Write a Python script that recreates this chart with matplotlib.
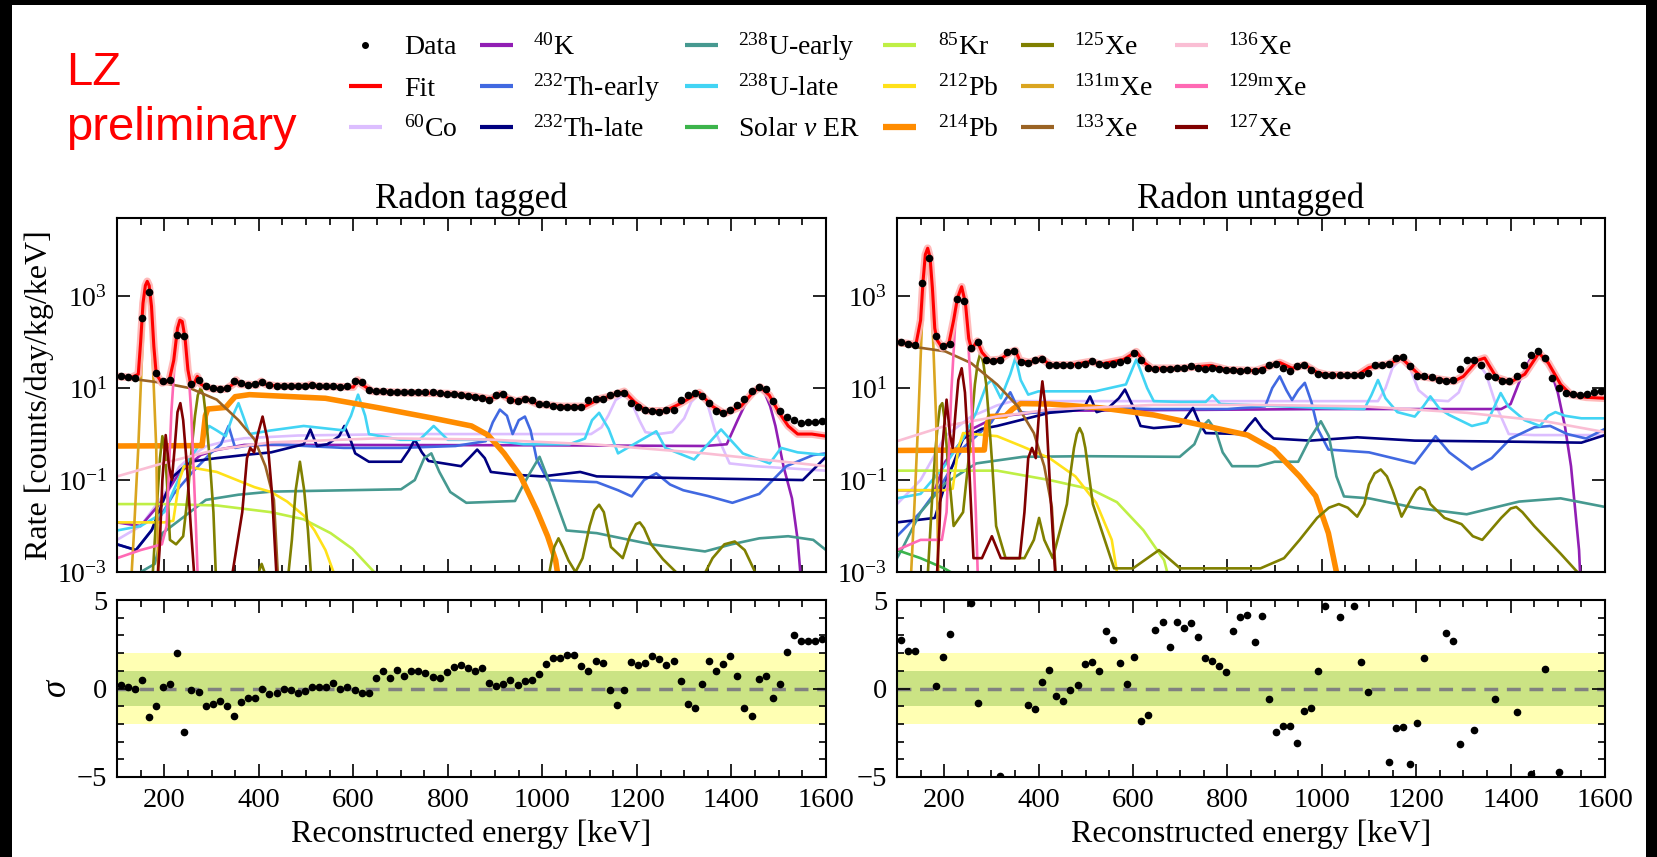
import numpy as np
import matplotlib
matplotlib.use('Agg')
import matplotlib.pyplot as plt
from matplotlib.patches import Rectangle
from matplotlib.lines import Line2D
from matplotlib.ticker import FixedLocator, MultipleLocator, NullLocator, FuncFormatter

plt.rcParams['font.family'] = ['Liberation Serif', 'DejaVu Serif']
plt.rcParams['mathtext.fontset'] = 'custom'
plt.rcParams['mathtext.rm'] = 'Liberation Serif'
plt.rcParams['mathtext.it'] = 'Liberation Serif:italic'
plt.rcParams['mathtext.bf'] = 'Liberation Serif:bold'

# ---------------- data ----------------
bin_edges = np.arange(100, 1601, 15)
bin_centers = 0.5 * (bin_edges[:-1] + bin_edges[1:])

data_tag = [17.9, 17.3, 16.3, 337, 1220, 21, 14.1, 15.3, 146, 134,
            12.2, 15.3, 10.9, 10, 9.5, 10, 14, 13, 11.9, 12.5,
            13.4, 11.9, 11.3, 11.3, 11.3, 11.3, 11.3, 11.9, 10.9, 10.9,
            11.3, 10.5, 10.9, 14, 13.4, 9.3, 8.8, 8.5, 8.3, 8.2,
            8.2, 8.1, 8.2, 8.1, 8.2, 7.8, 7.5, 7.4, 7.2, 6.6,
            6.4, 6.1, 5.6, 7.2, 7.5, 5.6, 5.2, 5.8, 5.4, 4.4,
            4.4, 4.0, 3.9, 3.9, 3.9, 3.9, 5.6, 5.9, 5.8, 7.2,
            7.8, 7.8, 4.7, 3.9, 3.4, 3.1, 3.0, 3.4, 3.4, 5.4,
            7.2, 7.8, 6.6, 4.7, 3.2, 2.9, 3.3, 4.2, 5.8, 8.5,
            10.4, 9.5, 5.2, 3.1, 2.4, 2.0, 1.7, 1.8, 1.85, 1.9]

data_untag = [99, 93, 87, 1890, 6850, 134, 81, 93, 846, 780,
              75, 99, 41.6, 38, 41.6, 60, 63, 36.6, 35.4, 41.6,
              43, 32.3, 31.3, 31.3, 31.5, 32.3, 34, 38, 33, 31.3,
              33, 36.6, 41.6, 58, 40, 27.3, 26.5, 26.5, 26.5, 27,
              27, 30, 28, 26.5, 27.3, 26.5, 25, 24.5, 24, 24.5,
              23.5, 25, 32, 34, 27.3, 23, 30, 32, 25, 20.6,
              19.5, 19.2, 19.2, 19.2, 19, 19.2, 21, 31, 31, 34,
              45, 48, 30, 18.6, 18.6, 17.5, 14.8, 14.6, 15.2, 26,
              40, 41.6, 32, 18, 17.5, 14, 14, 18, 32, 53,
              63, 45, 16.5, 10, 7.8, 7.4, 7.2, 7.5, 8.1, 8.5]

resid_tag = [0.19, 0.09, 0.0, 0.47, -1.6, -1.0, 0.06, 0.25, 2.02, -2.45,
             -0.06, -0.19, -1.0, -0.9, -0.7, -1.0, -1.53, -0.75, -0.53, -0.51,
             0.0, -0.32, -0.25, -0.02, -0.09, -0.25, -0.13, 0.06, 0.09, 0.09,
             0.32, 0.0, 0.09, -0.06, -0.23, -0.23, 0.57, 1.0, 0.6, 1.06,
             0.72, 0.98, 1.0, 0.85, 0.66, 0.62, 0.92, 1.19, 1.3, 1.13,
             1.0, 1.13, 0.32, 0.13, 0.28, 0.47, 0.19, 0.43, 0.47, 0.81,
             1.38, 1.7, 1.7, 1.89, 1.87, 1.26, 1.0, 1.58, 1.42, -0.09,
             -0.96, -0.06, 1.47, 1.3, 1.42, 1.83, 1.68, 1.3, 1.55, 0.43,
             -0.89, -1.08, 0.28, 1.55, 1.0, 1.38, 1.83, 0.7, -1.08, -1.53,
             0.51, 0.7, -0.53, 0.28, 2.04, 3.0, 2.66, 2.66, 2.7, 2.79]

resid_untag = [2.74, 2.11, 2.13, 6.0, -6.0, 0.15, 1.79, 3.08, 6.0, -6.0,
               4.81, -0.81, 6.0, -6.0, -4.94, 6.0, 6.0, -6.0, -0.92, -1.15,
               0.38, 1.04, -0.43, -0.72, -0.06, 0.17, 1.38, 1.49, 1.0, 3.25,
               2.74, 1.42, 0.26, 1.79, -1.83, -1.51, 3.3, 3.74, 2.36, 3.75,
               3.42, 3.72, 2.89, 1.7, 1.57, 1.26, 0.94, 3.25, 4.06, 4.17,
               2.62, 4.09, -0.57, -2.45, -2.13, -2.13, -3.06, -1.26, -1.11, 1.0,
               4.66, 6.0, 4.06, 6.0, 4.66, 1.49, -0.21, -6.0, -6.0, -4.15,
               -2.21, -2.17, -4.25, -1.94, 1.7, 6.0, 6.0, 3.15, 2.66, -3.15,
               -6.0, -2.36, -6.0, -6.0, -0.58, -6.0, -6.0, -1.3, -6.0, -4.81,
               -6.0, 1.11, -6.0, -4.74, 6.0, 6.0, 6.0, 6.0, 6.0, 6.0]

# fit curves
fit_tag_E = [100, 130, 145, 150, 155, 160, 164, 168, 173, 178, 183, 195, 210, 220, 228, 233, 238, 244, 250, 256,
             262, 270, 278, 290, 305, 330, 345, 352, 360, 380, 395, 405, 415, 440, 500, 510, 520, 600, 609, 618,
             640, 700, 800, 850, 890, 911, 930, 945, 965, 990, 1040, 1090, 1120, 1140, 1173, 1195, 1220, 1260,
             1290, 1332, 1360, 1385, 1420, 1445, 1461, 1480, 1500, 1520, 1540, 1570, 1600]
fit_tag = [18, 17, 20, 100, 700, 1700, 2100, 1700, 600, 80, 20, 13, 14, 40, 200, 300, 280, 120, 25, 12,
           12, 18, 12, 10.5, 9.5, 9.5, 12, 15, 12, 12, 11.5, 14, 12, 11, 11, 12, 11, 10.5, 15, 12,
           8.5, 8, 7.6, 6.8, 5.8, 7.5, 5.8, 5.2, 5.8, 4.5, 4.0, 4.0, 5.8, 6.5, 8.5, 5, 3.2, 3.2,
           4.5, 8.0, 4.0, 2.8, 4.0, 8, 10.5, 7, 3, 1.5, 1.0, 1.0, 0.9]

fit_untag_E = [100, 140, 150, 155, 160, 165, 170, 175, 180, 185, 196, 210, 220, 228, 237, 245, 252, 258, 270, 280,
               295, 318, 340, 351, 360, 380, 406, 425, 470, 511, 530, 580, 607, 625, 640, 700, 765, 800, 860, 880,
               911, 937, 964, 990, 1010, 1075, 1100, 1120, 1140, 1169, 1190, 1210, 1250, 1280, 1300, 1330, 1345,
               1370, 1400, 1430, 1460, 1480, 1506, 1528, 1560, 1600]
fit_untag = [100, 88, 300, 2000, 8000, 11000, 7000, 1500, 200, 110, 75, 95, 300, 900, 1600, 700, 120, 70, 105, 60,
             40, 42, 60, 66, 40, 36, 44, 32, 32, 38, 33, 42, 62, 35, 27, 27, 31, 25, 24, 28,
             36, 27, 32, 22, 19.5, 19, 28, 31, 33, 45, 28, 18, 15.5, 14, 18, 40, 45,
             17, 13.5, 20, 58, 35, 12, 7.2, 6.3, 6.0]

# ---- Radon tagged components ----
co60_tag_E = [100, 150, 200, 231, 260, 288, 330, 369, 483, 700, 1000, 1103, 1125, 1140, 1155, 1172, 1188, 1205,
              1218, 1245, 1275, 1300, 1315, 1332, 1348, 1365, 1396, 1450, 1520, 1600]
co60_tag = [0.005, 0.01, 0.05, 0.19, 0.35, 0.54, 0.7, 0.81, 0.93, 1.0, 1.0, 1.0, 1.4, 2.6, 5.5, 7.2, 5.0, 2.0,
            1.1, 1.0, 1.1, 2.2, 5.0, 7.5, 5.0, 1.2, 0.23, 0.2, 0.18, 0.16]
k40_tag_E = [100, 150, 190, 231, 277, 311, 369, 541, 1000, 1344, 1390, 1413, 1435, 1450, 1460, 1470, 1482, 1493,
             1510, 1528, 1540, 1548]
k40_tag = [0.012, 0.01, 0.03, 0.14, 0.35, 0.45, 0.58, 0.58, 0.57, 0.55, 0.6, 2.0, 6.0, 9.0, 9.4, 8.0, 4.0, 1.5,
           0.2, 0.04, 0.005, 0.0005]
th_early_tag_E = [100, 140, 180, 220, 260, 300, 320, 336, 350, 370, 426, 500, 580, 700, 816, 880, 895, 910, 925,
                  937, 950, 963, 975, 988, 1011, 1115, 1160, 1189, 1215, 1241, 1270, 1298, 1350, 1402, 1459, 1516,
                  1573, 1600]
th_early_tag = [0.004, 0.003, 0.01, 0.05, 0.15, 0.4, 0.6, 1.5, 0.5, 0.55, 0.6, 0.55, 0.5, 0.5, 0.55, 0.7, 1.8,
                3.4, 2.5, 1.0, 2.0, 2.4, 1.2, 0.28, 0.1, 0.09, 0.06, 0.044, 0.1, 0.14, 0.08, 0.06, 0.045, 0.032,
                0.05, 0.2, 0.35, 0.38]
th_late_tag_E = [100, 140, 173, 200, 219, 254, 311, 369, 426, 495, 509, 523, 545, 570, 581, 595, 604, 633, 701,
                 718, 730, 745, 759, 828, 845, 862, 878, 891, 942, 1000, 1080, 1115, 1300, 1551, 1600]
th_late_tag = [0.004, 0.003, 0.008, 0.04, 0.12, 0.25, 0.3, 0.35, 0.4, 0.6, 1.26, 0.55, 0.6, 0.9, 1.5, 0.7, 0.38,
               0.25, 0.25, 0.45, 0.76, 0.4, 0.26, 0.2, 0.3, 0.46, 0.3, 0.15, 0.13, 0.12, 0.15, 0.12, 0.11, 0.1, 0.32]
u_early_tag_E = [100, 150, 180, 196, 242, 288, 357, 426, 701, 730, 750, 765, 782, 805, 839, 942, 960, 975, 994,
                 1010, 1023, 1051, 1115, 1230, 1344, 1400, 1459, 1520, 1573, 1600]
u_early_tag = [0.0005, 0.001, 0.0015, 0.007, 0.016, 0.037, 0.048, 0.056, 0.063, 0.1, 0.3, 0.38, 0.15, 0.055,
               0.032, 0.035, 0.08, 0.15, 0.32, 0.12, 0.05, 0.008, 0.007, 0.004, 0.0028, 0.004, 0.0054, 0.006,
               0.005, 0.003]
u_late_tag_E = [100, 150, 200, 242, 280, 295, 311, 330, 345, 357, 370, 380, 426, 495, 580, 595, 610, 625, 633, 700,
                740, 770, 800, 885, 960, 1057, 1090, 1105, 1120, 1140, 1160, 1241, 1260, 1321, 1378, 1424, 1481,
                1505, 1540, 1600]
u_late_tag = [0.008, 0.01, 0.02, 0.2, 0.7, 1.5, 1.2, 0.9, 2.5, 4.7, 2.0, 1.0, 1.2, 1.5, 1.2, 2.5, 7.2, 2.5, 1.0,
              0.75, 0.75, 1.5, 0.75, 0.75, 0.6, 0.6, 0.8, 2.0, 2.9, 1.3, 0.38, 1.15, 0.5, 0.28, 1.26, 0.38, 0.23,
              0.5, 0.4, 0.35]
solar_tag_E = [100, 1600]
solar_tag = [0.0005, 0.0004]
kr85_tag_E = [100, 200, 311, 426, 495, 552, 598, 644, 660]
kr85_tag = [0.03, 0.03, 0.028, 0.02, 0.014, 0.007, 0.0032, 0.001, 0.0005]
pb212_tag_E = [100, 200, 219, 232, 242, 311, 391, 426, 460, 495, 518, 541, 558, 565]
pb212_tag = [0.012, 0.012, 0.013, 0.1, 0.2, 0.15, 0.07, 0.055, 0.034, 0.017, 0.008, 0.003, 0.001, 0.0004]
pb214_tag_E = [100, 280, 287, 292, 330, 340, 350, 380, 541, 655, 770, 850, 885, 919, 954, 988, 1011, 1028, 1036]
pb214_tag = [0.55, 0.56, 2.5, 3.5, 3.8, 5, 6.5, 7.2, 6.0, 3.7, 2.2, 1.5, 0.95, 0.38, 0.12, 0.022, 0.006, 0.0018,
             0.0005]
xe125_tag_E = [100, 170, 180, 186, 191, 196, 201, 206, 212, 225, 240, 250, 258, 265, 271, 277, 283, 289, 296, 304,
               310, 390, 400, 406, 412, 420, 460, 470, 478, 487, 496, 504, 512, 530, 1000, 1015, 1025, 1034, 1043,
               1055, 1070, 1085, 1100, 1110, 1120, 1130, 1145, 1170, 1185, 1198, 1206, 1215, 1230, 1255, 1292, 1330,
               1360, 1385, 1407, 1428, 1450, 1470]
xe125_tag = [1e-5, 1e-4, 0.005, 0.05, 0.3, 0.9, 0.5, 0.08, 0.005, 0.004, 0.006, 0.05, 0.5, 2.5, 7, 10, 7, 2, 0.3,
             0.02, 0.0005, 0.0005, 0.001, 0.0015, 0.001, 0.0004, 0.0005, 0.005, 0.06, 0.25, 0.06, 0.008, 0.0005,
             1e-5, 0.0002, 0.001, 0.0035, 0.0054, 0.0035, 0.0018, 0.001, 0.002, 0.01, 0.022, 0.029, 0.02, 0.0035,
             0.002, 0.006, 0.011, 0.012, 0.009, 0.004, 0.0019, 0.0008, 0.0005, 0.002, 0.004, 0.0046, 0.003, 0.001,
             0.0002]
xe131m_tag_E = [120, 135, 145, 152, 158, 164, 170, 176, 183, 190]
xe131m_tag = [1e-5, 0.005, 0.5, 30, 600, 2000, 600, 30, 0.5, 1e-5]
xe133_tag_E = [100, 150, 196, 254, 311, 357, 391, 414, 432, 440, 445]
xe133_tag = [16.6, 15, 13, 10, 5.6, 2.0, 0.76, 0.2, 0.037, 0.001, 1e-5]
xe136_tag_E = [100, 196, 311, 426, 655, 885, 1115, 1344, 1600]
xe136_tag = [0.12, 0.23, 0.46, 0.66, 0.81, 0.76, 0.59, 0.38, 0.2]
xe129m_tag_E = [100, 150, 195, 205, 215, 225, 236, 247, 257, 267, 277]
xe129m_tag = [0.002, 0.003, 0.004, 0.01, 3, 100, 280, 100, 3, 0.01, 1e-5]
xe127_tag_E = [100, 180, 190, 196, 203, 210, 216, 222, 228, 234, 240, 248, 256, 265, 290, 300, 310, 340, 365, 375,
               382, 390, 398, 408, 418, 428, 437, 445]
xe127_tag = [1e-5, 1e-4, 0.003, 0.1, 0.95, 0.2, 0.1, 0.5, 3, 4.7, 2, 0.2, 0.01, 0.0005, 0.0005, 0.001, 0.0005,
             0.0005, 0.02, 0.3, 0.5, 0.4, 1.0, 2.4, 0.8, 0.05, 0.001, 1e-5]

# ---- Radon untagged components ----
co60_untag_E = [100, 150, 202, 257, 312, 345, 700, 1119, 1135, 1150, 1169, 1188, 1205, 1230, 1268, 1290, 1310,
                1329, 1348, 1370, 1396, 1450, 1600]
co60_untag = [0.03, 0.1, 0.9, 2.4, 4.2, 5.2, 5.2, 5.2, 10, 28, 43, 25, 9, 5.5, 5.2, 8, 25, 38, 20, 4, 1.0, 0.95,
              0.95]
k40_untag_E = [100, 180, 202, 257, 312, 423, 1000, 1380, 1400, 1420, 1440, 1460, 1480, 1500, 1515, 1528, 1545, 1556]
k40_untag = [0.06, 0.06, 0.25, 1.26, 2.4, 3.2, 3.5, 3.5, 4.5, 15, 40, 56, 35, 8, 1.5, 0.2, 0.003, 1e-5]
th_early_untag_E = [100, 150, 200, 240, 300, 320, 340, 360, 378, 533, 640, 800, 880, 895, 911, 925, 937, 950, 964,
                    978, 992, 1014, 1100, 1197, 1241, 1270, 1318, 1360, 1400, 1450, 1484, 1520, 1560, 1600]
th_early_untag = [0.006, 0.02, 0.1, 0.5, 1.8, 4, 8.1, 3, 2.9, 3.7, 3.5, 3.5, 4, 10, 18, 9, 5.5, 9, 13, 5, 1.26,
                  0.46, 0.4, 0.23, 0.9, 0.4, 0.17, 0.3, 0.8, 1.4, 1.5, 1.0, 0.8, 1.3]
th_late_untag_E = [100, 180, 202, 240, 280, 312, 423, 470, 495, 509, 523, 545, 570, 583, 600, 616, 644, 699, 715,
                   727, 740, 754, 832, 845, 859, 875, 898, 975, 1075, 1197, 1418, 1550, 1600]
th_late_untag = [0.012, 0.015, 0.08, 0.8, 1.3, 1.5, 2.9, 3.2, 3.5, 6.6, 3.0, 3.5, 6, 9.3, 4, 1.5, 1.35, 1.5, 2.5,
                 3.7, 1.8, 1.05, 1.0, 1.5, 2.2, 1.3, 0.8, 0.72, 0.85, 0.72, 0.68, 0.65, 0.95]
u_early_untag_E = [100, 113, 150, 202, 268, 367, 500, 699, 730, 745, 760, 775, 790, 810, 865, 900, 950, 975, 998,
                   1015, 1031, 1047, 1100, 1197, 1307, 1418, 1506, 1600]
u_early_untag = [0.002, 0.0035, 0.02, 0.085, 0.23, 0.32, 0.33, 0.32, 0.6, 1.4, 2.0, 1.2, 0.4, 0.2, 0.2, 0.25,
                 0.25, 0.8, 1.9, 0.9, 0.12, 0.044, 0.04, 0.025, 0.018, 0.034, 0.04, 0.026]
u_late_untag_E = [100, 150, 200, 240, 268, 290, 301, 320, 340, 351, 362, 378, 400, 520, 585, 607, 630, 644, 700,
                  754, 768, 785, 865, 1000, 1090, 1105, 1119, 1135, 1160, 1197, 1215, 1230, 1250, 1270, 1318, 1350,
                  1366, 1379, 1395, 1430, 1462, 1480, 1495, 1515, 1550, 1600]
u_late_untag = [0.04, 0.05, 0.2, 0.8, 3.0, 12, 15, 6, 20, 46, 15, 7.2, 8.5, 8.5, 12, 42, 10, 5.2, 5.0, 5.0, 7.0,
                4.5, 4.2, 3.7, 3.5, 7, 15, 6, 3.0, 2.4, 4, 6.6, 3.5, 2.6, 1.5, 1.8, 4, 7.8, 4, 2, 1.5, 2.5, 3, 2.5,
                2.2, 2.2]
solar_untag_E = [100, 150, 200, 230, 260]
solar_untag = [0.003, 0.002, 0.0012, 0.0008, 0.0005]
kr85_untag_E = [100, 200, 312, 423, 511, 566, 622, 666, 680]
kr85_untag = [0.16, 0.16, 0.16, 0.1, 0.063, 0.033, 0.0081, 0.0018, 0.0005]
pb212_untag_E = [100, 200, 218, 230, 240, 312, 367, 423, 478, 522, 555, 566, 572]
pb212_untag = [0.06, 0.06, 0.065, 0.5, 1.05, 0.9, 0.53, 0.3, 0.12, 0.032, 0.005, 0.001, 0.0003]
pb214_untag_E = [100, 285, 290, 296, 330, 345, 362, 423, 533, 644, 754, 843, 898, 953, 987, 1014, 1031, 1040]
pb214_untag = [0.44, 0.45, 1.5, 2.4, 2.5, 3.5, 4.6, 4.5, 3.7, 2.6, 1.5, 0.95, 0.46, 0.12, 0.045, 0.007, 0.001,
               0.0003]
xe125_untag_E = [100, 160, 175, 181, 186, 191, 196, 201, 207, 220, 240, 252, 260, 265, 271, 277, 283, 289, 295,
                 302, 310, 330, 370, 390, 401, 412, 430, 460, 468, 475, 481, 487, 493, 499, 507, 515, 560, 600, 655,
                 700, 800, 870, 920, 953, 990, 1015, 1036, 1055, 1075, 1090, 1100, 1112, 1125, 1138, 1150, 1169,
                 1190, 1200, 1208, 1218, 1230, 1260, 1296, 1320, 1340, 1380, 1400, 1412, 1425, 1450, 1506, 1550]
xe125_untag = [1e-5, 1e-4, 0.05, 0.4, 1.5, 4.0, 4.7, 2.0, 0.3, 0.01, 0.02, 0.3, 3, 12, 35, 60, 35, 12, 2, 0.2,
               0.01, 0.002, 0.002, 0.005, 0.015, 0.005, 0.002, 0.03, 0.15, 0.5, 1.0, 1.35, 1.0, 0.5, 0.12, 0.03,
               0.0012, 0.0012, 0.003, 0.0012, 0.0012, 0.0012, 0.002, 0.005, 0.015, 0.025, 0.03, 0.025, 0.016,
               0.03, 0.08, 0.14, 0.17, 0.12, 0.06, 0.016, 0.04, 0.06, 0.07, 0.06, 0.03, 0.015, 0.011, 0.006, 0.005,
               0.015, 0.024, 0.026, 0.02, 0.01, 0.0025, 0.0008]
xe131m_untag_E = [120, 135, 145, 152, 158, 164, 170, 176, 183, 190]
xe131m_untag = [1e-5, 0.01, 2, 150, 3500, 11000, 3500, 150, 2, 1e-5]
xe133_untag_E = [100, 202, 257, 312, 356, 390, 412, 428, 436, 442]
xe133_untag = [89, 63, 35, 12, 4, 1.05, 0.2, 0.026, 0.001, 1e-5]
xe136_untag_E = [100, 202, 312, 423, 644, 865, 1086, 1307, 1473, 1600]
xe136_untag = [0.7, 1.5, 2.4, 3.4, 4.3, 4.3, 4.0, 2.9, 1.9, 1.1]
xe129m_untag_E = [100, 150, 195, 205, 215, 225, 236, 247, 257, 267, 277]
xe129m_untag = [0.003, 0.005, 0.005, 0.02, 8, 500, 1500, 500, 8, 0.02, 1e-5]
xe127_untag_E = [100, 180, 190, 196, 205, 212, 218, 224, 230, 237, 244, 252, 262, 280, 301, 320, 360, 370, 378,
                 386, 394, 401, 408, 416, 425, 435, 442]
xe127_untag = [1e-5, 1e-4, 0.01, 0.5, 5.6, 1.0, 0.5, 3, 15, 27, 8, 0.3, 0.002, 0.002, 0.006, 0.002, 0.002, 0.02,
               0.3, 0.5, 0.3, 3, 14, 3, 0.05, 0.001, 1e-5]

component_labels = ['$^{60}$Co', '$^{40}$K', '$^{232}$Th-early', '$^{232}$Th-late', '$^{238}$U-early',
                    '$^{238}$U-late', r'Solar $\nu$ ER', '$^{85}$Kr', '$^{212}$Pb', '$^{214}$Pb',
                    '$^{125}$Xe', r'$^{131\mathrm{m}}$Xe', '$^{133}$Xe', '$^{136}$Xe', r'$^{129\mathrm{m}}$Xe',
                    '$^{127}$Xe']
component_colors = ['#dcbeff', '#911eb4', '#4169e1', '#000080', '#469990', '#42d4f4', '#3cb44b', '#bfef45',
                    '#ffe119', '#ff8c00', '#808000', '#daa520', '#9a6324', '#fabed4', '#ff69b4', '#800000']

comps_tag = [(co60_tag_E, co60_tag), (k40_tag_E, k40_tag), (th_early_tag_E, th_early_tag),
             (th_late_tag_E, th_late_tag), (u_early_tag_E, u_early_tag), (u_late_tag_E, u_late_tag),
             (solar_tag_E, solar_tag), (kr85_tag_E, kr85_tag), (pb212_tag_E, pb212_tag),
             (pb214_tag_E, pb214_tag), (xe125_tag_E, xe125_tag), (xe131m_tag_E, xe131m_tag),
             (xe133_tag_E, xe133_tag), (xe136_tag_E, xe136_tag), (xe129m_tag_E, xe129m_tag),
             (xe127_tag_E, xe127_tag)]
comps_untag = [(co60_untag_E, co60_untag), (k40_untag_E, k40_untag), (th_early_untag_E, th_early_untag),
               (th_late_untag_E, th_late_untag), (u_early_untag_E, u_early_untag), (u_late_untag_E, u_late_untag),
               (solar_untag_E, solar_untag), (kr85_untag_E, kr85_untag), (pb212_untag_E, pb212_untag),
               (pb214_untag_E, pb214_untag), (xe125_untag_E, xe125_untag), (xe131m_untag_E, xe131m_untag),
               (xe133_untag_E, xe133_untag), (xe136_untag_E, xe136_untag), (xe129m_untag_E, xe129m_untag),
               (xe127_untag_E, xe127_untag)]

# ---------------- figure ----------------
W, H = 1658, 857
fig = plt.figure(figsize=(W / 100, H / 100), dpi=100, facecolor='black')
fig.patches.append(Rectangle((12.5 / W, 0), (1646 - 12.5) / W, 1 - 5 / H, transform=fig.transFigure,
                             facecolor='white', edgecolor='none', zorder=-10))


def px_axes(x0, y0, x1, y1):
    return fig.add_axes([x0 / W, 1 - y1 / H, (x1 - x0) / W, (y1 - y0) / H])


def style(ax):
    for s in ax.spines.values():
        s.set_linewidth(1.5)
    ax.set_xlim(100, 1600)
    ax.xaxis.set_major_locator(MultipleLocator(200))
    ax.xaxis.set_minor_locator(MultipleLocator(50))
    ax.tick_params(which='both', direction='in', top=True, right=True, width=1.2, labelsize=20.5)
    ax.tick_params(which='major', length=9.5)
    ax.tick_params(which='minor', length=5)
    ax.tick_params(axis='x', pad=8)
    ax.tick_params(axis='y', pad=7)


logfmt = FuncFormatter(lambda v, p: r'$10^{%d}$' % int(round(np.log10(v))))
sigfmt = FuncFormatter(lambda v, p: ('%d' % v).replace('-', '\u2212'))

panels = [(117, 826, 'Radon tagged', comps_tag, fit_tag_E, fit_tag, data_tag, resid_tag),
          (897, 1605, 'Radon untagged', comps_untag, fit_untag_E, fit_untag, data_untag, resid_untag)]

for (x0, x1, title, comps, fE, fV, dV, rV) in panels:
    ax = px_axes(x0, 218, x1, 572)
    for (E, V), c in zip(comps, component_colors):
        lw = 4.0 if c == '#ff8c00' else 1.9
        ax.plot(E, V, color=c, lw=lw, solid_joinstyle='round')
    ax.plot(fE, fV, color='#ffb3b3', lw=5.5, alpha=0.9, solid_joinstyle='round')
    ax.plot(fE, fV, color='#ff0000', lw=2.2, solid_joinstyle='round')
    ax.plot(bin_centers, dV, 'o', color='black', ms=4.5, ls='none')
    ax.set_yscale('log')
    ax.set_ylim(1e-3, 5e4)
    style(ax)
    ax.yaxis.set_major_locator(FixedLocator([1e-3, 1e-1, 1e1, 1e3]))
    ax.yaxis.set_minor_locator(NullLocator())
    ax.yaxis.set_major_formatter(logfmt)
    ax.tick_params(axis='x', labelbottom=False)
    ax.tick_params(axis='y', labelsize=20)
    fig.text((x0 + x1) / 2 / W, 1 - 208 / H, title, ha='center', va='baseline', fontsize=25)

    rax = px_axes(x0, 600, x1, 777)
    rax.axhspan(-2, 2, color='#ffffb3', lw=0, zorder=0)
    rax.axhspan(-1, 1, color='#cbe384', lw=0, zorder=0)
    rax.axhline(0, color='#808080', lw=2.5, ls=(0, (4, 2.5)), zorder=1)
    rax.plot(bin_centers, rV, 'o', color='black', ms=4.5, ls='none', zorder=3, clip_on=True)
    rax.set_ylim(-5, 5)
    style(rax)
    rax.yaxis.set_major_locator(FixedLocator([-5, 0, 5]))
    rax.yaxis.set_minor_locator(MultipleLocator(1))
    rax.yaxis.set_major_formatter(sigfmt)
    fig.text((x0 + x1) / 2 / W, 1 - 842 / H, 'Reconstructed energy [keV]', ha='center', va='baseline',
             fontsize=23)

fig.text(39 / W, 1 - 395 / H, 'Rate [counts/day/kg/keV]', rotation=90, ha='center', va='center', fontsize=23)
fig.text(58 / W, 1 - 688 / H, r'$\sigma$', rotation=90, ha='center', va='center', fontsize=25)

fig.text(66 / W, 1 - 85 / H, 'LZ', color='#ff0000', fontsize=34, family='Liberation Sans', va='baseline')
fig.text(66 / W, 1 - 140 / H, 'preliminary', color='#ff0000', fontsize=34, family='Liberation Sans',
         va='baseline')

# ---- legend, laid out in 6 columns x 3 rows (pixel positions) ----
legend_labels = ['Data', 'Fit'] + component_labels
legend_colors = ['black', '#ff0000'] + component_colors
col_handle_x = [349, 480, 685, 883, 1021, 1175]
col_text_x = [404, 533, 738, 938, 1074, 1228]
row_y = [45, 86, 127]
for i, (lab, c) in enumerate(zip(legend_labels, legend_colors)):
    col, row = i // 3, i % 3
    hx, tx, yy = col_handle_x[col], col_text_x[col], row_y[row]
    yf = 1 - yy / H
    if lab == 'Data':
        fig.add_artist(Line2D([(hx + 16.5) / W], [yf], transform=fig.transFigure, ls='none', marker='o',
                              color='black', ms=4))
    else:
        lw = 4.5 if c == '#ff8c00' else 3
        fig.add_artist(Line2D([hx / W, (hx + 33) / W], [yf, yf], transform=fig.transFigure, color=c, lw=lw,
                              solid_capstyle='butt'))
    fig.text(tx / W, 1 - (yy + 9.5) / H, lab, ha='left', va='baseline', fontsize=20)

fig.savefig('out.png', dpi=100, facecolor=fig.get_facecolor())
